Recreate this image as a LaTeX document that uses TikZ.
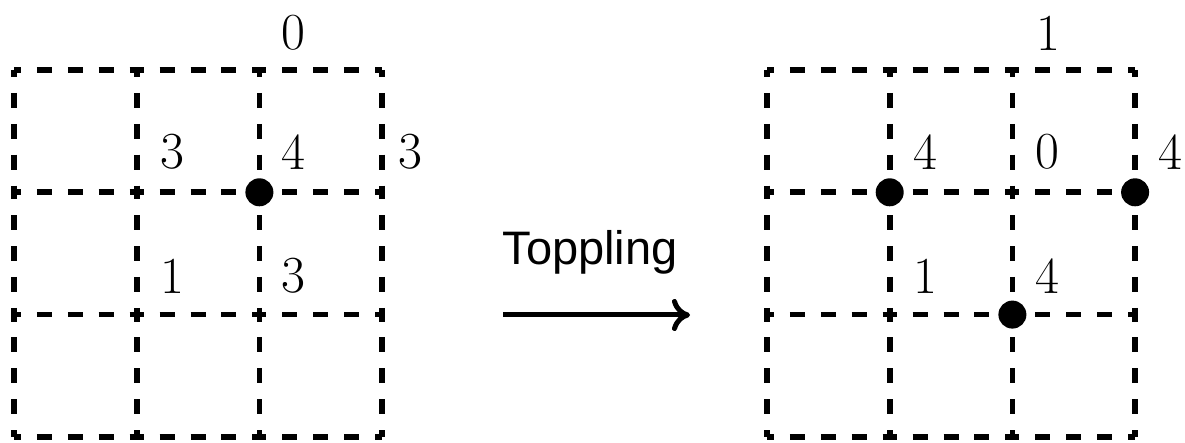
\documentclass[tikz,border=0pt]{standalone}
\usepackage{fontspec}
\newfontfamily\labelsans{Liberation Sans}
\usetikzlibrary{arrows.meta}
\begin{document}
\begin{tikzpicture}[x=0.5pt,y=-0.5pt,
  edge/.style={draw, line width=2.9pt, dash pattern=on 7.5pt off 7.95pt, dash phase=4pt},
  num/.style={font=\fontsize{26}{30}\selectfont, inner sep=0pt},
  site/.style={circle, fill, inner sep=0pt, minimum size=14pt},
  move/.style={line width=2.5pt, -{To[length=9pt,width=16pt]}}]
\useasboundingbox (0,0) rectangle (1185,443);

% lattice points of the two 3x3 grids
\foreach \g/\gx in {L/14,R/767}{
  \foreach \i in {0,1,2,3}{
    \foreach \j in {0,1,2,3}{
      \coordinate (\g-\i-\j) at (\gx+\i*122.7,70+\j*122.3);
    }
  }
}

% every cell edge is its own dashed segment
\foreach \g in {L,R}{
  \foreach \a/\b in {0/1,1/2,2/3}{
    \foreach \k in {0,1,2,3}{
      \draw[edge] (\g-\a-\k) -- (\g-\b-\k);
      \draw[edge] (\g-\k-\a) -- (\g-\k-\b);
    }
  }
}

% configuration before toppling
\node[num] (l0)  at (293,33)  {0};
\node[num] (l3a) at (172,152) {3};
\node[num] (l4)  at (293,152) {4};
\node[num] (l3b) at (410,152) {3};
\node[num] (l1)  at (172,276) {1};
\node[num] (l3c) at (293,276) {3};
\node[site] (lsite) at (L-2-1) {};

% configuration after toppling
\node[num] (r1a) at (1048,33)  {1};
\node[num] (r4a) at (925,152)  {4};
\node[num] (r0)  at (1047,152) {0};
\node[num] (r4b) at (1170,152) {4};
\node[num] (r1b) at (925,276)  {1};
\node[num] (r4c) at (1047,276) {4};
\node[site] (rsite1) at (R-1-1) {};
\node[site] (rsite2) at (R-3-1) {};
\node[site] (rsite3) at (R-2-2) {};

% toppling step
\node[font=\labelsans\fontsize{23.5}{28}\selectfont, inner sep=0pt] (step) at (590,252) {Toppling};
\coordinate (mfrom) at (503,315);
\coordinate (mto) at (690,315);
\draw[move] (mfrom) -- (mto);
\end{tikzpicture}
\end{document}
